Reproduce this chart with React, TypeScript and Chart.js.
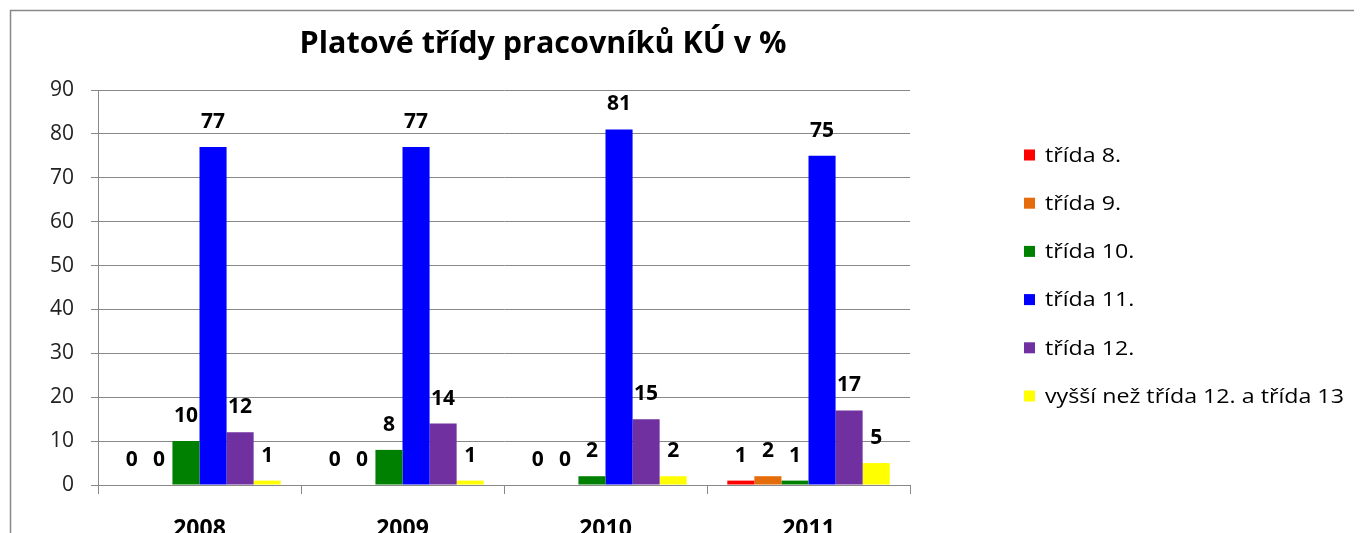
import React, { useEffect, useRef } from "react";
import { Chart, registerables } from "chart.js";

Chart.register(...registerables);

const categories = ["2008", "2009", "2010", "2011"];
const seriesNames = [
  "třída 8.",
  "třída 9.",
  "třída 10.",
  "třída 11.",
  "třída 12.",
  "vyšší než třída 12. a třída 13",
];
const trida8 = [0, 0, 0, 1];
const trida9 = [0, 0, 0, 2];
const trida10 = [10, 8, 2, 1];
const trida11 = [77, 77, 81, 75];
const trida12 = [12, 14, 15, 17];
const vyssi = [1, 1, 2, 5];
const seriesColors = ["#FF0000", "#E46C0A", "#008000", "#0000FF", "#7030A0", "#FFFF00"];
const titleText = "Platové třídy pracovníků KÚ v %";

const FONT = "'Open Sans', Lato, sans-serif";

export default function App() {
  const ref = useRef<HTMLCanvasElement | null>(null);

  useEffect(() => {
    document.documentElement.style.overflow = "hidden";
    document.body.style.overflow = "hidden";
    const canvas = ref.current;
    if (!canvas) return;

    const values = [trida8, trida9, trida10, trida11, trida12, vyssi];

    const labelsPlugin = {
      id: "valueLabels",
      afterDatasetsDraw(chart: any) {
        const ctx = chart.ctx;
        ctx.save();
        ctx.font = `bold 21px ${FONT}`;
        ctx.fillStyle = "#000";
        ctx.textAlign = "center";
        ctx.textBaseline = "middle";
        chart.data.datasets.forEach((ds: any, i: number) => {
          const meta = chart.getDatasetMeta(i);
          meta.data.forEach((el: any, j: number) => {
            ctx.fillText(String(ds.data[j]), el.x, el.y - 25);
          });
        });
        ctx.restore();
      },
    };

    const legendPlugin = {
      id: "sideLegend",
      afterDraw(chart: any) {
        const ctx = chart.ctx;
        const area = chart.chartArea;
        const x0 = area.right + 114;
        const y0 = area.top + 65;
        const step = 48.2;
        const sx = 1.16;
        ctx.save();
        ctx.font = `20px ${FONT}`;
        ctx.textAlign = "left";
        ctx.textBaseline = "middle";
        chart.data.datasets.forEach((ds: any, i: number) => {
          const cy = y0 + i * step;
          ctx.fillStyle = ds.backgroundColor;
          ctx.fillRect(x0, cy - 5.5, 11, 11);
          ctx.fillStyle = "#000";
          ctx.save();
          ctx.translate(x0 + 21, cy + 1);
          ctx.scale(sx, 1);
          ctx.fillText(ds.label, 0, 0);
          ctx.restore();
        });
        ctx.restore();
      },
    };

    const framePlugin = {
      id: "frameTitle",
      beforeDraw(chart: any) {
        const ctx = chart.ctx;
        ctx.save();
        ctx.fillStyle = "#fff";
        ctx.fillRect(0, 0, chart.width, chart.height);
        ctx.strokeStyle = "#888";
        ctx.lineWidth = 1.5;
        ctx.beginPath();
        ctx.moveTo(2.5, chart.height + 10);
        ctx.lineTo(2.5, 2.5);
        ctx.lineTo(chart.width + 10, 2.5);
        ctx.stroke();
        ctx.font = `bold 30.5px ${FONT}`;
        ctx.fillStyle = "#000";
        ctx.textAlign = "center";
        ctx.textBaseline = "middle";
        ctx.fillText(titleText, 535, 36);
        ctx.restore();
      },
    };

    const chart = new Chart(canvas, {
      type: "bar",
      data: {
        labels: categories,
        datasets: values.map((v, i) => ({
          label: seriesNames[i],
          data: v,
          backgroundColor: seriesColors[i],
          borderWidth: 0,
          categoryPercentage: 0.8,
          barPercentage: 1.0,
        })),
      },
      options: {
        responsive: false,
        animation: false,
        layout: { padding: { top: 82, left: 0, bottom: 23, right: 452 } },
        plugins: {
          title: { display: false },
          tooltip: { enabled: false },
          legend: { display: false },
        },
        scales: {
          x: {
            grid: {
              display: true,
              drawOnChartArea: false,
              drawTicks: true,
              tickLength: 9,
              color: "#888",
              offset: true,
            },
            border: { display: true, color: "#888" },
            ticks: {
              color: "#000",
              padding: 22,
              font: { family: FONT, size: 23, weight: "bold" },
            },
            afterFit: (s: any) => {
              s.height = 60;
            },
          },
          y: {
            min: 0,
            max: 90,
            ticks: {
              stepSize: 10,
              color: "#222",
              padding: 17,
              font: { family: FONT, size: 21 },
            },
            grid: { color: "#888", tickLength: 7 },
            border: { display: true, color: "#888" },
            afterFit: (s: any) => {
              s.width = 90;
            },
          },
        },
      },
      plugins: [framePlugin, labelsPlugin, legendPlugin],
    } as any);

    return () => chart.destroy();
  }, []);

  return (
    <div style={{ position: "relative", width: 1354, height: 560 }}>
      <canvas ref={ref} width={1354} height={560} style={{ display: "block" }} />
    </div>
  );
}
